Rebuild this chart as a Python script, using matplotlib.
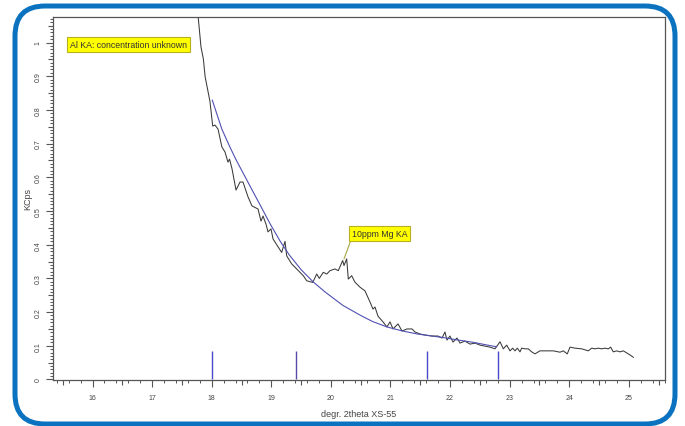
import numpy as np
import matplotlib
matplotlib.use("Agg")
import matplotlib.pyplot as plt
from matplotlib.patches import FancyBboxPatch
from matplotlib.ticker import FixedLocator, FuncFormatter

plt.rcParams['font.family'] = ['Liberation Sans', 'DejaVu Sans']

# measured spectrum (degr. 2theta, KCps)
spec_x = [17.76, 17.82, 17.86, 17.89, 17.97, 18.017, 18.055, 18.106, 18.171, 18.223, 18.273, 18.299,
          18.341, 18.408, 18.475, 18.525, 18.609, 18.676, 18.777, 18.827, 18.861, 18.911, 18.945,
          18.995, 19.029, 19.174, 19.230, 19.258, 19.342, 19.426, 19.481, 19.537, 19.594, 19.695,
          19.762, 19.805, 19.872, 19.930, 19.985, 20.069, 20.124, 20.198, 20.220, 20.265, 20.292,
          20.349, 20.403, 20.488, 20.572, 20.656, 20.706, 20.740, 20.790, 20.874, 20.941, 20.992,
          21.042, 21.126, 21.193, 21.277, 21.361, 21.411, 21.495, 21.579, 21.696, 21.797, 21.864,
          21.914, 21.948, 21.998, 22.049, 22.116, 22.166, 22.250, 22.334, 22.418, 22.502, 22.586,
          22.669, 22.753, 22.837, 22.893, 22.950, 23.005, 23.050, 23.089, 23.128, 23.173, 23.201,
          23.257, 23.312, 23.369, 23.424, 23.508, 23.621, 23.732, 23.844, 23.899, 23.966, 24.012,
          24.096, 24.208, 24.319, 24.376, 24.431, 24.487, 24.544, 24.599, 24.654, 24.695, 24.738,
          24.795, 24.851, 24.906, 24.963, 25.018, 25.074]
spec_y = [1.10, 0.987, 0.951, 0.898, 0.826, 0.752, 0.755, 0.743, 0.690, 0.675, 0.645, 0.654,
          0.625, 0.562, 0.586, 0.586, 0.542, 0.515, 0.506, 0.470, 0.485, 0.461, 0.438,
          0.447, 0.417, 0.377, 0.410, 0.367, 0.343, 0.328, 0.318, 0.308, 0.293, 0.288,
          0.313, 0.300, 0.318, 0.313, 0.323, 0.328, 0.323, 0.353, 0.338, 0.358, 0.298,
          0.308, 0.289, 0.274, 0.263, 0.230, 0.209, 0.215, 0.188, 0.171, 0.156, 0.171,
          0.150, 0.165, 0.144, 0.150, 0.150, 0.141, 0.135, 0.132, 0.129, 0.129, 0.123,
          0.141, 0.117, 0.129, 0.111, 0.123, 0.108, 0.114, 0.105, 0.108, 0.102, 0.099,
          0.096, 0.091, 0.112, 0.091, 0.102, 0.085, 0.093, 0.085, 0.093, 0.082, 0.093,
          0.091, 0.091, 0.082, 0.076, 0.085, 0.085, 0.085, 0.081, 0.085, 0.076, 0.096,
          0.093, 0.091, 0.085, 0.093, 0.091, 0.093, 0.091, 0.093, 0.091, 0.096, 0.082,
          0.085, 0.082, 0.085, 0.079, 0.073, 0.066]

# background fit
bg_x = [18.01, 18.17, 18.30, 18.40, 18.64, 18.80, 18.98, 19.15, 19.30, 19.50, 19.70, 19.90,
        20.20, 20.50, 20.70, 20.94, 21.20, 21.45, 21.90, 22.10, 22.40, 22.60, 22.78]
bg_y = [0.829, 0.743, 0.692, 0.655, 0.575, 0.522, 0.462, 0.410, 0.370, 0.326, 0.290, 0.260,
        0.220, 0.190, 0.172, 0.156, 0.144, 0.135, 0.124, 0.118, 0.110, 0.103, 0.097]

# marker positions
marker_x = [18.0, 19.41, 21.62, 22.81]
marker_h = [0.085, 0.085, 0.085, 0.085]
marker_c = ['#4848c8', '#5a4aa8', '#4848c8', '#4848c8']

xticks = [16, 17, 18, 19, 20, 21, 22, 23, 24, 25]
yticks = [0, 0.1, 0.2, 0.3, 0.4, 0.5, 0.6, 0.7, 0.8, 0.9, 1.0]

fig = plt.figure(figsize=(6.85, 4.27), dpi=100)
ax = fig.add_axes([53/685, 1-381/427, (665-53)/685, (381-18)/427])

gray = '#555555'
ax.plot(spec_x, spec_y, color='#3a3a3a', lw=0.75)
ax.plot(bg_x, bg_y, color='#5050b4', lw=0.8)
for mx, mh, mc in zip(marker_x, marker_h, marker_c):
    ax.vlines(mx, 0, mh, color=mc, lw=1.0)

ax.set_xlim(15.337, 25.606)
ax.set_ylim(-0.0015, 1.0757)

for s in ax.spines.values():
    s.set_color(gray)
    s.set_linewidth(0.9)

ax.xaxis.set_major_locator(FixedLocator(xticks))
ax.xaxis.set_minor_locator(FixedLocator(np.arange(15.4, 25.61, 0.2)))
ax.yaxis.set_major_locator(FixedLocator(yticks))
ax.yaxis.set_minor_locator(FixedLocator(np.arange(0, 1.071, 0.01)))
ax.yaxis.set_major_formatter(FuncFormatter(lambda v, p: '%g' % round(v, 2)))
ax.tick_params(axis='both', which='major', direction='out', length=5, width=0.8,
               color=gray, labelsize=5, labelcolor='#444444', pad=5)
ax.tick_params(axis='y', which='major', pad=3)
ax.tick_params(axis='both', which='minor', direction='out', length=2.3, width=0.7, color=gray)
ax.tick_params(axis='y', which='major', labelrotation=90)
for lab in ax.get_yticklabels():
    lab.set_va('center')

secx = ax.secondary_xaxis('bottom')
secx.set_xticks(np.arange(15.5, 25.6, 1.0))
secx.tick_params(direction='out', length=3.5, width=0.8, color=gray, labelbottom=False)
secx.spines['bottom'].set_visible(False)
secy = ax.secondary_yaxis('left')
secy.set_yticks(np.arange(0.05, 1.06, 0.1))
secy.tick_params(direction='out', length=3.5, width=0.8, color=gray, labelleft=False)
secy.spines['left'].set_visible(False)

ax.set_xlabel('degr. 2theta XS-55', fontsize=6.5, color='#444444', labelpad=6)
ax.set_ylabel('KCps', fontsize=6.5, color='#444444')
ax.yaxis.set_label_coords(-0.034, 0.5)

ax.text(16.60, 0.993, 'Al KA: concentration unknown', fontsize=6.3, color='#333333',
        ha='center', va='center',
        bbox=dict(boxstyle='square,pad=0.35', fc='#ffff00', ec='#b8b020', lw=0.8))
ax.annotate('10ppm Mg KA', xy=(20.22, 0.358), xytext=(20.815, 0.433),
            fontsize=6.3, color='#333333', ha='center', va='center',
            bbox=dict(boxstyle='square,pad=0.35', fc='#ffff00', ec='#b8b020', lw=0.8),
            arrowprops=dict(arrowstyle='-', color='#a8a840', lw=0.8, relpos=(0, 0),
                            shrinkA=0, shrinkB=0))

border = FancyBboxPatch((0.15, 0.02), 6.60, 4.18,
                        boxstyle='round,pad=0,rounding_size=0.3',
                        transform=fig.dpi_scale_trans, fill=False,
                        ec='#0a72bf', lw=3.6)
fig.add_artist(border)

fig.savefig('out.png', dpi=100)
